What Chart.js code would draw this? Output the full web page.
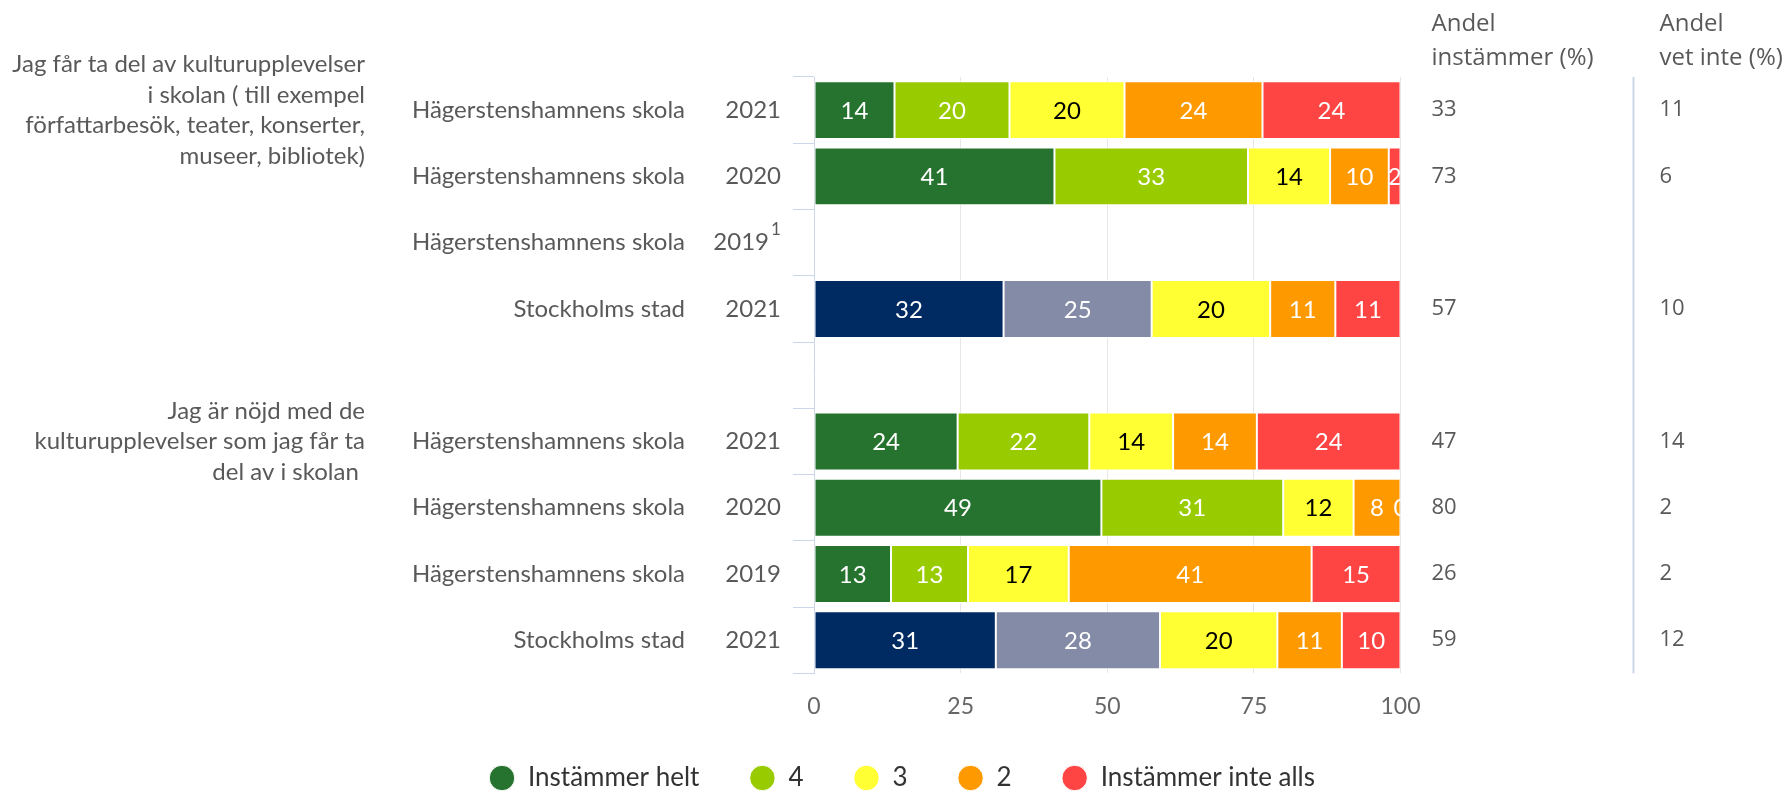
<!DOCTYPE html>
<html lang="sv">
<head>
<meta charset="utf-8">
<title>Kulturupplevelser i skolan</title>
<script src="https://cdn.jsdelivr.net/npm/chart.js@4.4.1/dist/chart.umd.min.js"></script>
<style>
  html, body { margin: 0; padding: 0; background: #fff; }
  #wrap { width: 1789px; height: 792px; }
</style>
</head>
<body>
<div id="wrap"><canvas id="chart" width="1789" height="792"></canvas></div>
<script>
'use strict';

// --- data ---------------------------------------------------------------
const questions = [
    ['Jag får ta del av kulturupplevelser', 'i skolan ( till exempel', 'författarbesök, teater, konserter,', 'museer, bibliotek)'],
    ['Jag är nöjd med de', 'kulturupplevelser som jag får ta', 'del av i skolan ']
];
const questionFirstRow = [0, 5];

const units = ['Hägerstenshamnens skola', 'Hägerstenshamnens skola', 'Hägerstenshamnens skola', 'Stockholms stad', '',
               'Hägerstenshamnens skola', 'Hägerstenshamnens skola', 'Hägerstenshamnens skola', 'Stockholms stad'];
const years = ['2021', '2020', '2019', '2021', '', '2021', '2020', '2019', '2021'];
const footnotes = ['', '', '1', '', '', '', '', '', ''];

const seriesNames = ['Instämmer helt', '4', '3', '2', 'Instämmer inte alls'];
const instammerHelt     = [14, 41, null, 32, null, 24, 49, 13, 31];
const svar4             = [20, 33, null, 25, null, 22, 31, 13, 28];
const svar3             = [20, 14, null, 20, null, 14, 12, 17, 20];
const svar2             = [24, 10, null, 11, null, 14,  8, 41, 11];
const instammerInteAlls = [24,  2, null, 11, null, 24,  0, 15, 10];

const andelInstammer = [33, 73, null, 57, null, 47, 80, 26, 59];
const andelVetInte   = [11,  6, null, 10, null, 14,  2,  2, 12];

const xTicks = [0, 25, 50, 75, 100];

// --- styling --------------------------------------------------------------
const GREEN = '#26732f', LIME = '#99cc00', YELLOW = '#ffff33', ORANGE = '#ff9900',
      RED = '#ff4444', NAVY = '#002b62', SLATE = '#838ba6';
const TEXT = '#595959';
const LABEL_FONT = 'Lato, "Noto Sans", sans-serif';
const VALUE_FONT = '"Open Sans", "Noto Sans", sans-serif';

const series = [instammerHelt, svar4, svar3, svar2, instammerInteAlls];
const isCity = units.map(u => u === 'Stockholms stad');
const palette = [
    isCity.map(c => c ? NAVY : GREEN),
    isCity.map(c => c ? SLATE : LIME),
    YELLOW, ORANGE, RED
];
const labelInk = ['#fff', '#fff', '#000', '#fff', '#fff'];

// rows are shown as shares of their (rounded) total, so every bar ends at 100
const rowTotals = units.map((_, i) => series.reduce((s, arr) => s + (arr[i] || 0), 0));
const share = arr => arr.map((v, i) => v === null ? null : v / rowTotals[i] * 100);

const datasets = series.map((arr, k) => ({
    label: seriesNames[k],
    data: share(arr),
    backgroundColor: palette[k],
    borderColor: '#ffffff',
    borderWidth: 1,
    borderSkipped: false,
    barPercentage: 0.875,
    categoryPercentage: 1
}));

// numbers inside the bars
const barValues = {
    id: 'barValues',
    afterDatasetsDraw(chart) {
        const { ctx, chartArea } = chart;
        ctx.save();
        ctx.beginPath();
        ctx.rect(chartArea.left, chartArea.top, chartArea.width, chartArea.height);
        ctx.clip();
        ctx.font = '24px ' + LABEL_FONT;
        ctx.textAlign = 'center';
        ctx.textBaseline = 'middle';
        chart.data.datasets.forEach((ds, k) => {
            chart.getDatasetMeta(k).data.forEach((bar, i) => {
                const v = series[k][i];
                if (v === null) return;
                const { x, y, base } = bar.getProps(['x', 'y', 'base'], true);
                ctx.fillStyle = labelInk[k];
                ctx.fillText(String(v), (x + base) / 2, y + 1);
            });
        });
        ctx.restore();
    }
};

// row labels, question texts and the two share columns
const sideLabels = {
    id: 'sideLabels',
    afterDraw(chart) {
        const { ctx, chartArea } = chart;
        const yScale = chart.scales.y;
        const left = chartArea.left, right = chartArea.right;
        ctx.save();
        ctx.fillStyle = TEXT;
        ctx.textBaseline = 'middle';

        units.forEach((u, i) => {
            if (!u) return;
            const py = yScale.getPixelForValue(i);
            ctx.font = '24px ' + LABEL_FONT;
            ctx.textAlign = 'right';
            ctx.fillText(u, left - 129, py);
            if (footnotes[i]) {
                ctx.fillText(years[i], left - 45, py);
                ctx.font = '17px ' + LABEL_FONT;
                ctx.textAlign = 'left';
                ctx.fillText(footnotes[i], left - 43, py - 13);
            } else {
                ctx.fillText(years[i], left - 33, py);
            }
        });

        ctx.font = '24px ' + LABEL_FONT;
        ctx.textAlign = 'right';
        questions.forEach((lines, q) => {
            const mid = yScale.getPixelForValue(questionFirstRow[q]);
            const lh = 30.5;
            const y0 = mid - (lines.length - 1) * lh / 2;
            lines.forEach((t, j) => ctx.fillText(t, 365, y0 + j * lh));
        });

        // share columns
        const col1 = right + 31, col2 = right + 259;
        ctx.textAlign = 'left';
        ctx.font = '24px ' + VALUE_FONT;
        ctx.fillText('Andel', col1, 24);
        ctx.fillText('instämmer (%)', col1, 58);
        ctx.fillText('Andel', col2, 24);
        ctx.fillText('vet inte (%)', col2, 58);

        ctx.font = '22px ' + VALUE_FONT;
        units.forEach((u, i) => {
            const py = yScale.getPixelForValue(i);
            if (andelInstammer[i] !== null) ctx.fillText(String(andelInstammer[i]), col1, py);
            if (andelVetInte[i] !== null) ctx.fillText(String(andelVetInte[i]), col2, py);
        });

        ctx.strokeStyle = '#ccd6eb';
        ctx.lineWidth = 2;
        ctx.beginPath();
        ctx.moveTo(right + 233, chartArea.top);
        ctx.lineTo(right + 233, chartArea.bottom);
        ctx.stroke();
        ctx.restore();
    }
};

new Chart(document.getElementById('chart'), {
    type: 'bar',
    data: { labels: units.map((u, i) => u + ' ' + years[i]), datasets },
    options: {
        indexAxis: 'y',
        responsive: false,
        animation: false,
        layout: { padding: { top: 77, left: 403.5, right: 388.5, bottom: -9 } },
        scales: {
            x: {
                stacked: true,
                min: 0,
                max: 100,
                afterFit(scale) { scale.height = 41.7; },
                afterBuildTicks(scale) { scale.ticks = xTicks.map(v => ({ value: v })); },
                ticks: { color: '#666', font: { family: LABEL_FONT, size: 23 }, padding: 19 },
                grid: {
                    color: c => (c.tick && c.tick.value === 0) ? 'rgba(0,0,0,0)' : '#e6e6e6',
                    drawTicks: false
                },
                border: { display: false }
            },
            y: {
                stacked: true,
                afterFit(scale) { scale.width = 410.5; },
                ticks: { display: false },
                grid: { offset: true, drawOnChartArea: false, drawTicks: true, tickLength: 21, color: '#ccd6eb' },
                border: { display: true, color: '#ccd6eb', width: 1 }
            }
        },
        plugins: {
            legend: {
                position: 'bottom',
                labels: {
                    usePointStyle: true,
                    pointStyle: 'circle',
                    boxHeight: 18,
                    color: '#333',
                    font: { family: LABEL_FONT, size: 26 },
                    padding: 50
                }
            },
            tooltip: { enabled: false }
        }
    },
    plugins: [barValues, sideLabels]
});
</script>
</body>
</html>
